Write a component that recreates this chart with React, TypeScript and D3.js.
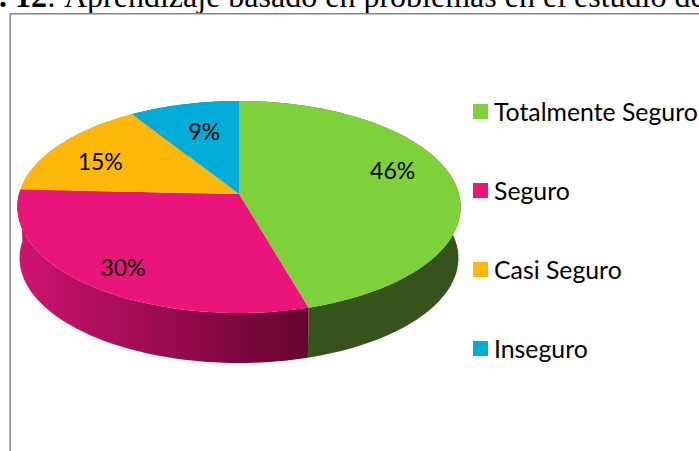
import React from 'react';
import * as d3 from 'd3';

const categories = ['Totalmente Seguro', 'Seguro', 'Casi Seguro', 'Inseguro'];
const values = [45.5, 30.2, 15.3, 9];
const colors = ['#7fd13b', '#ea157a', '#feb80a', '#00add8'];
const sideColors = ['#35531a', '#a30f55', '#b18007', '#007896'];

const width = 699, height = 451;
const cx = 239, cy = 194, R = 220;
const persp = 0.1226, squash = 104.4;
const depth = 51.2, baseScale = 0.99;
// small hand tweaks so the percent labels sit where Excel put them
const labelNudge = [[3, -13], [-14, 12], [-11, 3], [5, 3]];
// back walls first so they never poke out past the front ones
const sideOrder = [3, 2, 0, 1];

// circle point -> tilted disc, near edge bigger than the far edge
const project = (angle: number, f = 1): [number, number] => {
  const u = Math.sin(angle) * f, v = -Math.cos(angle) * f;
  const w = 1 - persp * v;
  return [R * u / w, squash * v / w];
};
const top = (angle: number, f = 1): [number, number] => {
  const [x, y] = project(angle, f);
  return [cx + x, cy + y];
};
const bottom = (angle: number): [number, number] => {
  const [x, y] = project(angle);
  return [cx + x * baseScale, cy + y * baseScale + depth];
};

const arcs = d3.pie<number>().sort(null).startAngle(0).endAngle(2 * Math.PI)(values);
const line = d3.line();
const steps = (a: number, b: number) => d3.range(0, 61).map(i => a + (b - a) * i / 60);

const facePath = (a: any) => line([[cx, cy], ...steps(a.startAngle, a.endAngle).map(t => top(t))])! + 'Z';
const sidePath = (a: any) => {
  const ts = steps(a.startAngle, a.endAngle);
  return line([...ts.map(t => top(t)), ...ts.slice().reverse().map(t => bottom(t))])! + 'Z';
};

const legendY = d3.scalePoint<string>().domain(categories).range([112, 349]);
const pct = d3.format('.0f');

export default function App() {
  return (
    <svg width={width} height={height} viewBox={`0 0 ${width} ${height}`}
      style={{ position: 'fixed', left: 0, top: 0, background: '#fff' }}>
      <defs>
        <linearGradient id="pinkSide" gradientUnits="userSpaceOnUse" x1={17} x2={308} y1={0} y2={0}>
          <stop offset="0" stopColor="#cf1370" />
          <stop offset="1" stopColor="#650430" />
        </linearGradient>
      </defs>

      <text x={-1} y={7} fontFamily="'Liberation Serif'" fontSize={32} fill="#000">
        <tspan fontWeight="bold">. 12</tspan><tspan>:</tspan>
        <tspan x={64}>Aprendizaje basado en problemas en el estudio de</tspan>
      </text>
      <path d={`M10.2,${height}V13.8H${width}`} fill="none" stroke="#868686" strokeWidth={1.5} />

      {sideOrder.map(i => (
        <path key={i} d={sidePath(arcs[i])} fill={i === 1 ? 'url(#pinkSide)' : sideColors[i]} />
      ))}
      {arcs.map((a, i) => <path key={i} d={facePath(a)} fill={colors[i]} />)}

      {arcs.map((a, i) => {
        const [x, y] = top((a.startAngle + a.endAngle) / 2, 0.7);
        return (
          <text key={i} x={x + labelNudge[i][0]} y={y + labelNudge[i][1]} dy="0.35em"
            textAnchor="middle" fontFamily="Lato" fontSize={23} fill="#000">
            {pct(a.data)}%
          </text>
        );
      })}

      {categories.map((c, i) => (
        <g key={c} transform={`translate(473,${legendY(c)})`}>
          <rect x={0} y={-8} width={15} height={15} fill={colors[i]} />
          <text x={21} y={0} dy="0.35em" fontFamily="Lato" fontSize={24.8} fill="#000">{c}</text>
        </g>
      ))}
    </svg>
  );
}
